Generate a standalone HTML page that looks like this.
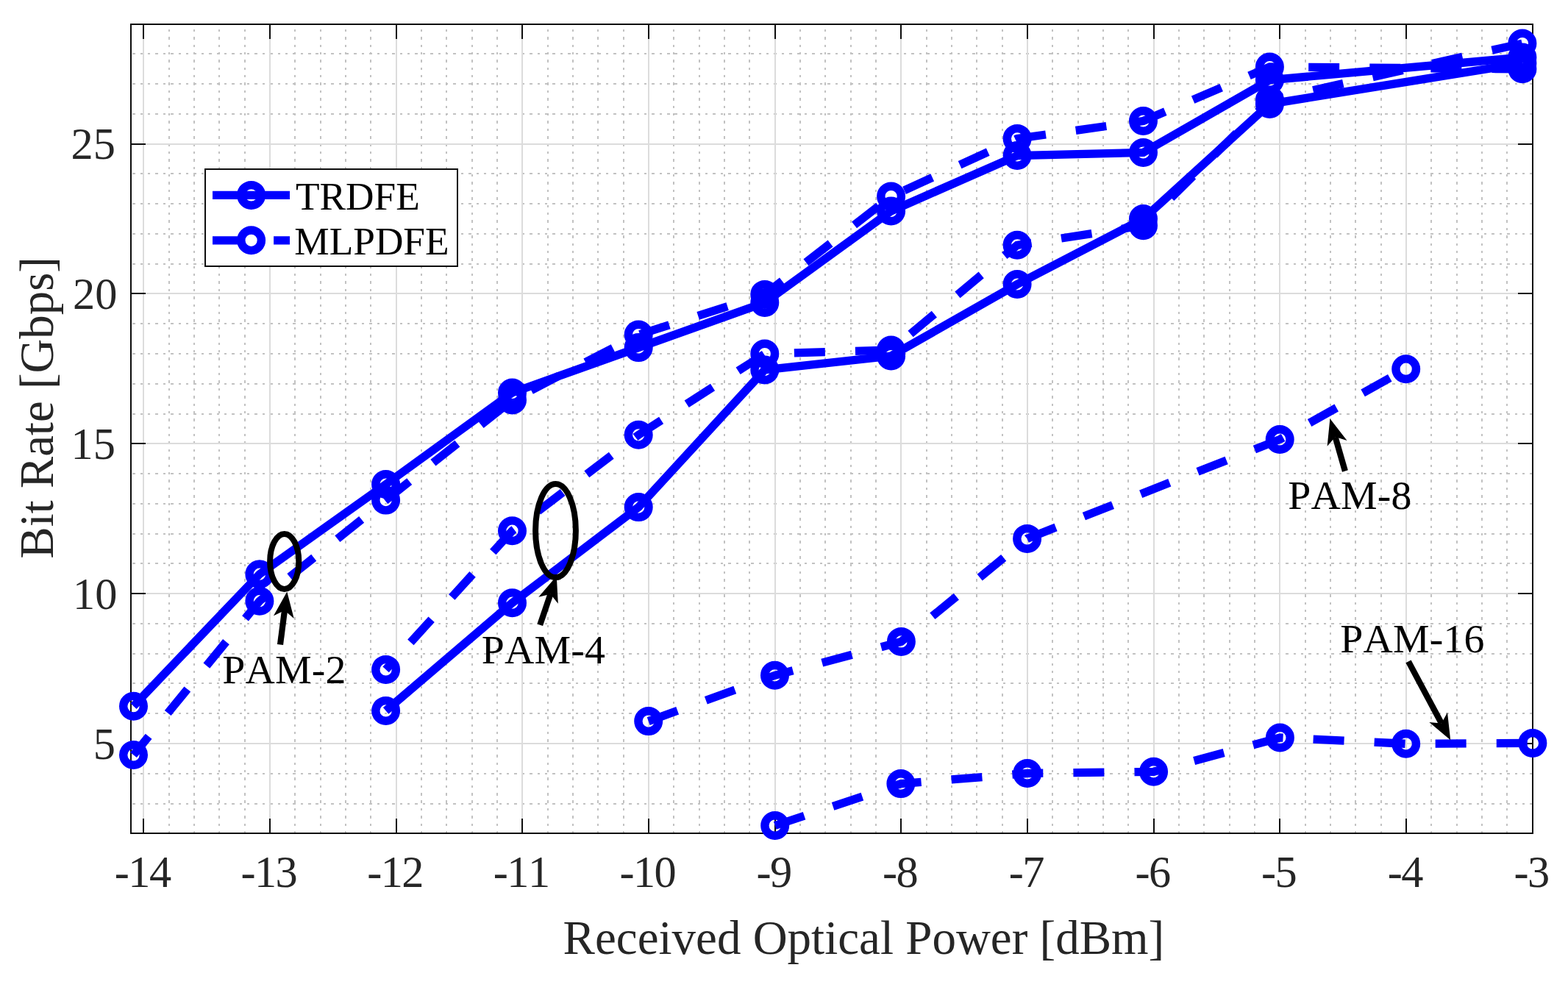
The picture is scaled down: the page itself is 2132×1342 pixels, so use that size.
<!DOCTYPE html>
<html lang="en"><head><meta charset="utf-8"><title>Bit Rate vs Received Optical Power</title>
<style>
html,body{margin:0;padding:0;background:#fff;}
body{width:2132px;height:1342px;overflow:hidden;}
svg{display:block;}
text{font-family:"Liberation Serif","Times New Roman",Times,serif;font-kerning:none;}
.tick{font-size:60.4px;fill:#262626;}
.lab{font-size:64.8px;fill:#262626;}
.leg{font-size:53.3px;fill:#000;}
.ann{font-size:55.8px;letter-spacing:0.2px;fill:#000;}
</style></head><body>
<svg width="2132" height="1342" viewBox="0 0 2132 1342" role="img" aria-label="Bit rate versus received optical power">
<rect x="0" y="0" width="2132" height="1342" fill="#ffffff"/>
<g stroke="#c2c2c2" stroke-width="2" fill="none" stroke-dasharray="3.4 6.983" shape-rendering="crispEdges">
<line x1="230" y1="33" x2="230" y2="1133" stroke-dashoffset="-6.8"/>
<line x1="264" y1="33" x2="264" y2="1133" stroke-dashoffset="-6.8"/>
<line x1="298" y1="33" x2="298" y2="1133" stroke-dashoffset="-6.8"/>
<line x1="333" y1="33" x2="333" y2="1133" stroke-dashoffset="-6.8"/>
<line x1="401" y1="33" x2="401" y2="1133" stroke-dashoffset="-6.8"/>
<line x1="436" y1="33" x2="436" y2="1133" stroke-dashoffset="-6.8"/>
<line x1="470" y1="33" x2="470" y2="1133" stroke-dashoffset="-6.8"/>
<line x1="504" y1="33" x2="504" y2="1133" stroke-dashoffset="-6.8"/>
<line x1="573" y1="33" x2="573" y2="1133" stroke-dashoffset="-6.8"/>
<line x1="607" y1="33" x2="607" y2="1133" stroke-dashoffset="-6.8"/>
<line x1="642" y1="33" x2="642" y2="1133" stroke-dashoffset="-6.8"/>
<line x1="676" y1="33" x2="676" y2="1133" stroke-dashoffset="-6.8"/>
<line x1="745" y1="33" x2="745" y2="1133" stroke-dashoffset="-6.8"/>
<line x1="779" y1="33" x2="779" y2="1133" stroke-dashoffset="-6.8"/>
<line x1="813" y1="33" x2="813" y2="1133" stroke-dashoffset="-6.8"/>
<line x1="848" y1="33" x2="848" y2="1133" stroke-dashoffset="-6.8"/>
<line x1="916" y1="33" x2="916" y2="1133" stroke-dashoffset="-6.8"/>
<line x1="951" y1="33" x2="951" y2="1133" stroke-dashoffset="-6.8"/>
<line x1="985" y1="33" x2="985" y2="1133" stroke-dashoffset="-6.8"/>
<line x1="1019" y1="33" x2="1019" y2="1133" stroke-dashoffset="-6.8"/>
<line x1="1088" y1="33" x2="1088" y2="1133" stroke-dashoffset="-6.8"/>
<line x1="1122" y1="33" x2="1122" y2="1133" stroke-dashoffset="-6.8"/>
<line x1="1157" y1="33" x2="1157" y2="1133" stroke-dashoffset="-6.8"/>
<line x1="1191" y1="33" x2="1191" y2="1133" stroke-dashoffset="-6.8"/>
<line x1="1260" y1="33" x2="1260" y2="1133" stroke-dashoffset="-6.8"/>
<line x1="1294" y1="33" x2="1294" y2="1133" stroke-dashoffset="-6.8"/>
<line x1="1328" y1="33" x2="1328" y2="1133" stroke-dashoffset="-6.8"/>
<line x1="1363" y1="33" x2="1363" y2="1133" stroke-dashoffset="-6.8"/>
<line x1="1431" y1="33" x2="1431" y2="1133" stroke-dashoffset="-6.8"/>
<line x1="1466" y1="33" x2="1466" y2="1133" stroke-dashoffset="-6.8"/>
<line x1="1500" y1="33" x2="1500" y2="1133" stroke-dashoffset="-6.8"/>
<line x1="1534" y1="33" x2="1534" y2="1133" stroke-dashoffset="-6.8"/>
<line x1="1603" y1="33" x2="1603" y2="1133" stroke-dashoffset="-6.8"/>
<line x1="1637" y1="33" x2="1637" y2="1133" stroke-dashoffset="-6.8"/>
<line x1="1672" y1="33" x2="1672" y2="1133" stroke-dashoffset="-6.8"/>
<line x1="1706" y1="33" x2="1706" y2="1133" stroke-dashoffset="-6.8"/>
<line x1="1775" y1="33" x2="1775" y2="1133" stroke-dashoffset="-6.8"/>
<line x1="1809" y1="33" x2="1809" y2="1133" stroke-dashoffset="-6.8"/>
<line x1="1843" y1="33" x2="1843" y2="1133" stroke-dashoffset="-6.8"/>
<line x1="1878" y1="33" x2="1878" y2="1133" stroke-dashoffset="-6.8"/>
<line x1="1946" y1="33" x2="1946" y2="1133" stroke-dashoffset="-6.8"/>
<line x1="1981" y1="33" x2="1981" y2="1133" stroke-dashoffset="-6.8"/>
<line x1="2015" y1="33" x2="2015" y2="1133" stroke-dashoffset="-6.8"/>
<line x1="2049" y1="33" x2="2049" y2="1133" stroke-dashoffset="-6.8"/>
<line x1="178" y1="1093" x2="2084" y2="1093" stroke-dashoffset="-2.3"/>
<line x1="178" y1="1052" x2="2084" y2="1052" stroke-dashoffset="-2.3"/>
<line x1="178" y1="970" x2="2084" y2="970" stroke-dashoffset="-2.3"/>
<line x1="178" y1="929" x2="2084" y2="929" stroke-dashoffset="-2.3"/>
<line x1="178" y1="889" x2="2084" y2="889" stroke-dashoffset="-2.3"/>
<line x1="178" y1="848" x2="2084" y2="848" stroke-dashoffset="-2.3"/>
<line x1="178" y1="766" x2="2084" y2="766" stroke-dashoffset="-2.3"/>
<line x1="178" y1="726" x2="2084" y2="726" stroke-dashoffset="-2.3"/>
<line x1="178" y1="685" x2="2084" y2="685" stroke-dashoffset="-2.3"/>
<line x1="178" y1="644" x2="2084" y2="644" stroke-dashoffset="-2.3"/>
<line x1="178" y1="563" x2="2084" y2="563" stroke-dashoffset="-2.3"/>
<line x1="178" y1="522" x2="2084" y2="522" stroke-dashoffset="-2.3"/>
<line x1="178" y1="481" x2="2084" y2="481" stroke-dashoffset="-2.3"/>
<line x1="178" y1="440" x2="2084" y2="440" stroke-dashoffset="-2.3"/>
<line x1="178" y1="359" x2="2084" y2="359" stroke-dashoffset="-2.3"/>
<line x1="178" y1="318" x2="2084" y2="318" stroke-dashoffset="-2.3"/>
<line x1="178" y1="277" x2="2084" y2="277" stroke-dashoffset="-2.3"/>
<line x1="178" y1="236" x2="2084" y2="236" stroke-dashoffset="-2.3"/>
<line x1="178" y1="155" x2="2084" y2="155" stroke-dashoffset="-2.3"/>
<line x1="178" y1="114" x2="2084" y2="114" stroke-dashoffset="-2.3"/>
<line x1="178" y1="73" x2="2084" y2="73" stroke-dashoffset="-2.3"/>
</g>
<g stroke="#dcdcdc" stroke-width="2" fill="none" shape-rendering="crispEdges">
<line x1="195" y1="33" x2="195" y2="1133"/>
<line x1="367" y1="33" x2="367" y2="1133"/>
<line x1="539" y1="33" x2="539" y2="1133"/>
<line x1="710" y1="33" x2="710" y2="1133"/>
<line x1="882" y1="33" x2="882" y2="1133"/>
<line x1="1054" y1="33" x2="1054" y2="1133"/>
<line x1="1225" y1="33" x2="1225" y2="1133"/>
<line x1="1397" y1="33" x2="1397" y2="1133"/>
<line x1="1569" y1="33" x2="1569" y2="1133"/>
<line x1="1740" y1="33" x2="1740" y2="1133"/>
<line x1="1912" y1="33" x2="1912" y2="1133"/>
<line x1="2084" y1="33" x2="2084" y2="1133"/>
<line x1="178" y1="1011" x2="2084" y2="1011"/>
<line x1="178" y1="807" x2="2084" y2="807"/>
<line x1="178" y1="603" x2="2084" y2="603"/>
<line x1="178" y1="399" x2="2084" y2="399"/>
<line x1="178" y1="196" x2="2084" y2="196"/>
</g>
<g stroke="#0d0d0d" stroke-width="2" fill="none" shape-rendering="crispEdges">
<rect x="178" y="33" width="1906" height="1100"/>
<line x1="195" y1="1133" x2="195" y2="1113"/>
<line x1="195" y1="33" x2="195" y2="53"/>
<line x1="367" y1="1133" x2="367" y2="1113"/>
<line x1="367" y1="33" x2="367" y2="53"/>
<line x1="539" y1="1133" x2="539" y2="1113"/>
<line x1="539" y1="33" x2="539" y2="53"/>
<line x1="710" y1="1133" x2="710" y2="1113"/>
<line x1="710" y1="33" x2="710" y2="53"/>
<line x1="882" y1="1133" x2="882" y2="1113"/>
<line x1="882" y1="33" x2="882" y2="53"/>
<line x1="1054" y1="1133" x2="1054" y2="1113"/>
<line x1="1054" y1="33" x2="1054" y2="53"/>
<line x1="1225" y1="1133" x2="1225" y2="1113"/>
<line x1="1225" y1="33" x2="1225" y2="53"/>
<line x1="1397" y1="1133" x2="1397" y2="1113"/>
<line x1="1397" y1="33" x2="1397" y2="53"/>
<line x1="1569" y1="1133" x2="1569" y2="1113"/>
<line x1="1569" y1="33" x2="1569" y2="53"/>
<line x1="1740" y1="1133" x2="1740" y2="1113"/>
<line x1="1740" y1="33" x2="1740" y2="53"/>
<line x1="1912" y1="1133" x2="1912" y2="1113"/>
<line x1="1912" y1="33" x2="1912" y2="53"/>
<line x1="178" y1="1011" x2="198" y2="1011"/>
<line x1="2084" y1="1011" x2="2064" y2="1011"/>
<line x1="178" y1="807" x2="198" y2="807"/>
<line x1="2084" y1="807" x2="2064" y2="807"/>
<line x1="178" y1="603" x2="198" y2="603"/>
<line x1="2084" y1="603" x2="2064" y2="603"/>
<line x1="178" y1="399" x2="198" y2="399"/>
<line x1="2084" y1="399" x2="2064" y2="399"/>
<line x1="178" y1="196" x2="198" y2="196"/>
<line x1="2084" y1="196" x2="2064" y2="196"/>
</g>
<g class="tick" text-anchor="middle" style="letter-spacing:-1.6px">
<text x="193.72" y="1206.3">-14</text>
<text x="365.38" y="1206.3">-13</text>
<text x="537.03" y="1206.3">-12</text>
<text x="708.69" y="1206.3">-11</text>
<text x="880.34" y="1206.3">-10</text>
<text x="1052" y="1206.3">-9</text>
<text x="1223.65" y="1206.3">-8</text>
<text x="1395.31" y="1206.3">-7</text>
<text x="1566.96" y="1206.3">-6</text>
<text x="1738.62" y="1206.3">-5</text>
<text x="1910.27" y="1206.3">-4</text>
<text x="2081.93" y="1206.3">-3</text>
</g>
<g class="tick" text-anchor="end">
<text x="156.9" y="1031.6">5</text>
<text x="159.5" y="827.74">10</text>
<text x="156.9" y="623.88">15</text>
<text x="159.5" y="420.03">20</text>
<text x="156.9" y="216.17">25</text>
</g>
<text class="lab" x="765.6" y="1297.2" style="font-size:65px">Received Optical Power [dBm]</text>
<text class="lab" transform="translate(72.1 759.4) rotate(-90)">Bit Rate [Gbps]</text>
<g stroke="#0000ff" fill="none" stroke-linejoin="miter" stroke-linecap="butt">
<polyline points="181.5,960.2 352.9,780.7 524.6,658.5 696.5,534 868.2,472.6 1039.8,411.5 1211.6,287 1383.1,211.5 1554.5,207.5 1726.4,108.8 2069.9,78" stroke-width="11.3"/>
<circle cx="181.5" cy="960.2" r="13.8" stroke-width="11.4"/>
<circle cx="352.9" cy="780.7" r="13.8" stroke-width="11.4"/>
<circle cx="524.6" cy="658.5" r="13.8" stroke-width="11.4"/>
<circle cx="696.5" cy="534" r="13.8" stroke-width="11.4"/>
<circle cx="868.2" cy="472.6" r="13.8" stroke-width="11.4"/>
<circle cx="1039.8" cy="411.5" r="13.8" stroke-width="11.4"/>
<circle cx="1211.6" cy="287" r="13.8" stroke-width="11.4"/>
<circle cx="1383.1" cy="211.5" r="13.8" stroke-width="11.4"/>
<circle cx="1554.5" cy="207.5" r="13.8" stroke-width="11.4"/>
<circle cx="1726.4" cy="108.8" r="13.8" stroke-width="11.4"/>
<circle cx="2069.9" cy="78" r="13.8" stroke-width="11.4"/>
<polyline points="181.5,1026.5 352.9,817.2 524.6,680.1 696.5,544 868.2,455.1 1039.8,400.4 1211.6,267 1383.1,188.4 1554.5,164.5 1726.4,91 2069.9,93.8" stroke-width="11.3" stroke-dasharray="42 41.1" stroke-dashoffset="9.4"/>
<circle cx="181.5" cy="1026.5" r="13.8" stroke-width="11.4"/>
<circle cx="352.9" cy="817.2" r="13.8" stroke-width="11.4"/>
<circle cx="524.6" cy="680.1" r="13.8" stroke-width="11.4"/>
<circle cx="696.5" cy="544" r="13.8" stroke-width="11.4"/>
<circle cx="868.2" cy="455.1" r="13.8" stroke-width="11.4"/>
<circle cx="1039.8" cy="400.4" r="13.8" stroke-width="11.4"/>
<circle cx="1211.6" cy="267" r="13.8" stroke-width="11.4"/>
<circle cx="1383.1" cy="188.4" r="13.8" stroke-width="11.4"/>
<circle cx="1554.5" cy="164.5" r="13.8" stroke-width="11.4"/>
<circle cx="1726.4" cy="91" r="13.8" stroke-width="11.4"/>
<circle cx="2069.9" cy="93.8" r="13.8" stroke-width="11.4"/>
<polyline points="524.6,966.4 696.5,819.7 868.2,689.6 1039.8,502.9 1211.6,484 1383.1,386.5 1554.5,297.6 1726.4,141.4 2069.9,85.9" stroke-width="11.3"/>
<circle cx="524.6" cy="966.4" r="13.8" stroke-width="11.4"/>
<circle cx="696.5" cy="819.7" r="13.8" stroke-width="11.4"/>
<circle cx="868.2" cy="689.6" r="13.8" stroke-width="11.4"/>
<circle cx="1039.8" cy="502.9" r="13.8" stroke-width="11.4"/>
<circle cx="1211.6" cy="484" r="13.8" stroke-width="11.4"/>
<circle cx="1383.1" cy="386.5" r="13.8" stroke-width="11.4"/>
<circle cx="1554.5" cy="297.6" r="13.8" stroke-width="11.4"/>
<circle cx="1726.4" cy="141.4" r="13.8" stroke-width="11.4"/>
<circle cx="2069.9" cy="85.9" r="13.8" stroke-width="11.4"/>
<polyline points="524.6,910.4 696.5,721.7 868.2,591.3 1039.8,481.1 1211.6,476 1383.1,333.3 1554.5,306.7 1726.4,136 2069.9,59.1" stroke-width="11.3" stroke-dasharray="42 41.1" stroke-dashoffset="33"/>
<circle cx="524.6" cy="910.4" r="13.8" stroke-width="11.4"/>
<circle cx="696.5" cy="721.7" r="13.8" stroke-width="11.4"/>
<circle cx="868.2" cy="591.3" r="13.8" stroke-width="11.4"/>
<circle cx="1039.8" cy="481.1" r="13.8" stroke-width="11.4"/>
<circle cx="1211.6" cy="476" r="13.8" stroke-width="11.4"/>
<circle cx="1383.1" cy="333.3" r="13.8" stroke-width="11.4"/>
<circle cx="1554.5" cy="306.7" r="13.8" stroke-width="11.4"/>
<circle cx="1726.4" cy="136" r="13.8" stroke-width="11.4"/>
<circle cx="2069.9" cy="59.1" r="13.8" stroke-width="11.4"/>
<polyline points="881.7,980.6 1053.5,918.3 1225.4,872.4 1396.6,732.4 1740.2,597.5 1911.7,501.7" stroke-width="11.3" stroke-dasharray="42 41.1" stroke-dashoffset="0"/>
<circle cx="881.7" cy="980.6" r="13.8" stroke-width="11.4"/>
<circle cx="1053.5" cy="918.3" r="13.8" stroke-width="11.4"/>
<circle cx="1225.4" cy="872.4" r="13.8" stroke-width="11.4"/>
<circle cx="1396.6" cy="732.4" r="13.8" stroke-width="11.4"/>
<circle cx="1740.2" cy="597.5" r="13.8" stroke-width="11.4"/>
<circle cx="1911.7" cy="501.7" r="13.8" stroke-width="11.4"/>
<polyline points="1053.7,1122.5 1224.9,1065.6 1396.8,1051.5 1568.6,1049.3 1740.4,1003 1911.7,1011.3 2083.9,1010.4" stroke-width="11.3" stroke-dasharray="42 41.1" stroke-dashoffset="0"/>
<circle cx="1053.7" cy="1122.5" r="13.8" stroke-width="11.4"/>
<circle cx="1224.9" cy="1065.6" r="13.8" stroke-width="11.4"/>
<circle cx="1396.8" cy="1051.5" r="13.8" stroke-width="11.4"/>
<circle cx="1568.6" cy="1049.3" r="13.8" stroke-width="11.4"/>
<circle cx="1740.4" cy="1003" r="13.8" stroke-width="11.4"/>
<circle cx="1911.7" cy="1011.3" r="13.8" stroke-width="11.4"/>
<circle cx="2083.9" cy="1010.4" r="13.8" stroke-width="11.4"/>
</g>
<rect x="279" y="230" width="343" height="132" fill="#ffffff" stroke="#0d0d0d" stroke-width="2" shape-rendering="crispEdges"/>
<g stroke="#0000ff" fill="none">
<line x1="289" y1="265.4" x2="394" y2="265.4" stroke-width="11.3"/>
<circle cx="341.6" cy="265.4" r="13.8" stroke-width="11.4"/>
<line x1="289" y1="326.8" x2="394" y2="326.8" stroke-width="11.3" stroke-dasharray="42 41.1"/>
<circle cx="341.6" cy="326.8" r="13.8" stroke-width="11.4"/>
</g>
<text class="leg" x="401.9" y="284.9">TRDFE</text>
<text class="leg" x="400.3" y="345.5">MLPDFE</text>
<g stroke="#000" fill="none" stroke-width="8">
<ellipse cx="386.7" cy="763.4" rx="19.6" ry="37.5"/>
<ellipse cx="755.5" cy="721.6" rx="27.4" ry="63.5"/>
</g>
<line x1="381" y1="876.5" x2="386.99" y2="830.09" stroke="#000" stroke-width="8.2"/>
<polygon points="390.3,804.4 399.71,840.9 386.99,830.09 371.94,837.32" fill="#000"/>
<line x1="734.2" y1="849.8" x2="748.48" y2="807.73" stroke="#000" stroke-width="8.2"/>
<polygon points="756.8,783.2 758.81,820.84 748.48,807.73 732.3,811.84" fill="#000"/>
<line x1="1828.9" y1="640.5" x2="1815.56" y2="594.09" stroke="#000" stroke-width="8.2"/>
<polygon points="1808.4,569.2 1831.53,598.97 1815.56,594.09 1804.62,606.71" fill="#000"/>
<line x1="1915" y1="899.4" x2="1959.98" y2="983.46" stroke="#000" stroke-width="8.2"/>
<polygon points="1972.2,1006.3 1943.34,982.05 1959.98,983.46 1968.03,968.84" fill="#000"/>
<text class="ann" x="302.3" y="928.5">PAM-2</text>
<text class="ann" x="654.8" y="902">PAM-4</text>
<text class="ann" x="1751.3" y="691.6">PAM-8</text>
<text class="ann" x="1822.2" y="886.8">PAM-16</text>
</svg>
</body></html>
